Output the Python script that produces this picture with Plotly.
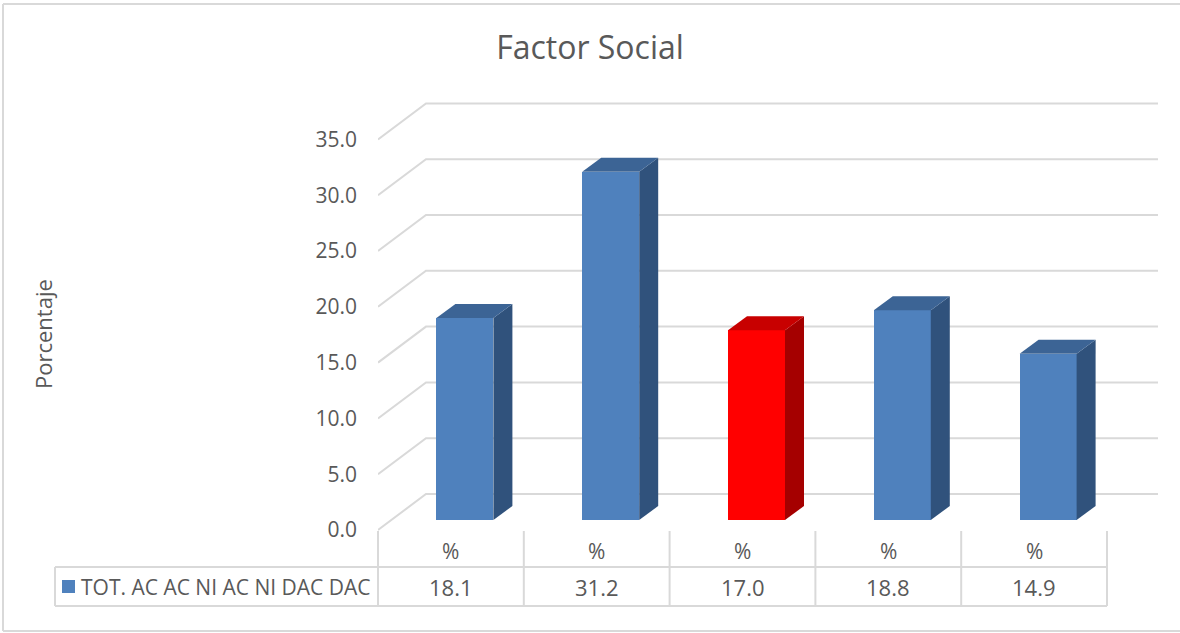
import plotly.graph_objects as go

# ---------------- data ----------------
categories = ["%", "%", "%", "%", "%"]
values = [18.1, 31.2, 17.0, 18.8, 14.9]
series_name = "TOT. AC AC NI AC NI DAC DAC"
highlight = [False, False, True, False, False]
y_ticks = [0, 5, 10, 15, 20, 25, 30, 35]
title_text = "Factor Social"
y_title = "Porcentaje"

# ---------------- styling ----------------
W, H = 1180, 633
L, R, T, B = 378, 20, 95, 23
PXU = 145.8          # px per category unit
PYU = 11.16          # px per value unit
plot_w = W - L - R
plot_h = H - T - B
x_rng = [-0.5, -0.5 + plot_w / PXU]
y_rng = [-(H - B - 530) / PYU, (530 - T) / PYU]

TXT = "#595959"
GRID = "#D9D9D9"
FONT = "Open Sans, Noto Sans, sans-serif"

blue = dict(front="#4F81BD", side="#30527C", top="#3C6495")
red = dict(front="#FF0000", side="#A50000", top="#C80000")

# 3D geometry (in axis units)
g_dx, g_dy = 48 / PXU, 36 / PYU      # wall depth
b_base = 10 / PYU                    # bar front bottom above front floor edge
b_off = 14 / PXU                     # perspective shift of bars
b_w = 57 / PXU                       # bar width
s_dx, s_dy = 19 / PXU, 14 / PYU      # bar depth

n = len(values)
xs = list(range(n))

fig = go.Figure()
shapes = []

# grid (front diagonal + back wall horizontal), drawn below the bars
x_end = (1158 - L) / PXU - 0.5
for v in y_ticks:
    path = f"M {-0.5} {v} L {-0.5 + g_dx} {v + g_dy} L {x_end} {v + g_dy}"
    shapes.append(dict(type="path", xref="x", yref="y", path=path,
                       line=dict(color=GRID, width=2), layer="below"))

# front faces
cols = [red if h else blue for h in highlight]
fig.add_trace(go.Bar(x=[x + b_off for x in xs], y=values, base=b_base, width=b_w,
                     marker=dict(color=[c["front"] for c in cols], line=dict(width=0)),
                     name=series_name, showlegend=False))

# side and top faces
for x, v, c in zip(xs, values, cols):
    xl = x + b_off - b_w / 2
    xr = x + b_off + b_w / 2
    y0 = b_base
    y1 = b_base + v
    fig.add_trace(go.Scatter(
        x=[xr, xr + s_dx, xr + s_dx, xr, xr],
        y=[y0, y0 + s_dy, y1 + s_dy, y1, y0],
        mode="lines", fill="toself", fillcolor=c["side"], line=dict(width=0, color=c["side"]),
        hoverinfo="skip", showlegend=False))
    fig.add_trace(go.Scatter(
        x=[xl, xr, xr + s_dx, xl + s_dx, xl],
        y=[y1, y1, y1 + s_dy, y1 + s_dy, y1],
        mode="lines", fill="toself", fillcolor=c["top"], line=dict(width=0, color=c["top"]),
        hoverinfo="skip", showlegend=False))

# ---------------- data table ----------------
def px_x(p):
    return (p - L) / plot_w

def px_y(p):
    return (H - B - p) / plot_h

line_style = dict(color=GRID, width=2)
for k in range(n + 1):
    xp = L + k * PXU
    shapes.append(dict(type="line", xref="paper", yref="paper",
                       x0=px_x(xp), x1=px_x(xp), y0=px_y(531), y1=px_y(606), line=line_style))
for yp in (567, 606):
    shapes.append(dict(type="line", xref="paper", yref="paper",
                       x0=px_x(55), x1=px_x(L + n * PXU), y0=px_y(yp), y1=px_y(yp), line=line_style))
shapes.append(dict(type="line", xref="paper", yref="paper",
                   x0=px_x(55), x1=px_x(55), y0=px_y(567), y1=px_y(606), line=line_style))
# legend key
shapes.append(dict(type="rect", xref="paper", yref="paper",
                   x0=px_x(62), x1=px_x(75), y0=px_y(593), y1=px_y(580),
                   fillcolor=blue["front"], line=dict(width=0)))
# chart border (top, left, bottom; right edge runs off the picture)
border = dict(color="#D9D9D9", width=2)
shapes.append(dict(type="line", xref="paper", yref="paper",
                   x0=px_x(3), x1=px_x(W), y0=px_y(4), y1=px_y(4), line=border))
shapes.append(dict(type="line", xref="paper", yref="paper",
                   x0=px_x(3), x1=px_x(3), y0=px_y(4), y1=px_y(631), line=border))
shapes.append(dict(type="line", xref="paper", yref="paper",
                   x0=px_x(3), x1=px_x(W), y0=px_y(631), y1=px_y(631), line=border))

annotations = []
for x, cat, v in zip(xs, categories, values):
    annotations.append(dict(x=x, y=-(551 - 530) / PYU, xref="x", yref="y", text=cat,
                            xanchor="center", yanchor="middle",
                            showarrow=False, font=dict(size=21, color=TXT, family=FONT)))
    annotations.append(dict(x=x, y=-(587 - 530) / PYU, xref="x", yref="y", text=f"{v:.1f}",
                            xanchor="center", yanchor="middle",
                            showarrow=False, font=dict(size=22, color=TXT, family=FONT)))
annotations.append(dict(x=px_x(79), y=px_y(587), xref="paper", yref="paper", text=series_name,
                        xanchor="left", yanchor="middle", showarrow=False,
                        font=dict(size=21, color=TXT, family=FONT)))
annotations.append(dict(x=px_x(43), y=px_y(334), xref="paper", yref="paper", text=y_title,
                        textangle=-90, xanchor="center", yanchor="middle", showarrow=False,
                        font=dict(size=22, color=TXT, family=FONT)))

fig.update_layout(
    width=W, height=H,
    margin=dict(l=L, r=R, t=T, b=B),
    paper_bgcolor="white", plot_bgcolor="white",
    title=dict(text=title_text, x=590 / W, xanchor="center", y=1 - 48 / H, yanchor="middle",
               font=dict(size=32, color=TXT, family=FONT)),
    xaxis=dict(range=x_rng, showgrid=False, zeroline=False, showticklabels=False, showline=False,
               fixedrange=True),
    yaxis=dict(range=y_rng, showgrid=False, zeroline=False, showline=False,
               tickvals=y_ticks, ticktext=[f"{v:.1f}" for v in y_ticks],
               tickfont=dict(size=21, color=TXT, family=FONT), ticks="", ticklabelstandoff=20,
               fixedrange=True),
    shapes=shapes, annotations=annotations,
    bargap=0, showlegend=False,
)

fig.write_html("out.html", config={"displayModeBar": False},
               post_script="document.body.style.margin='0px';document.body.style.overflow='hidden';")
